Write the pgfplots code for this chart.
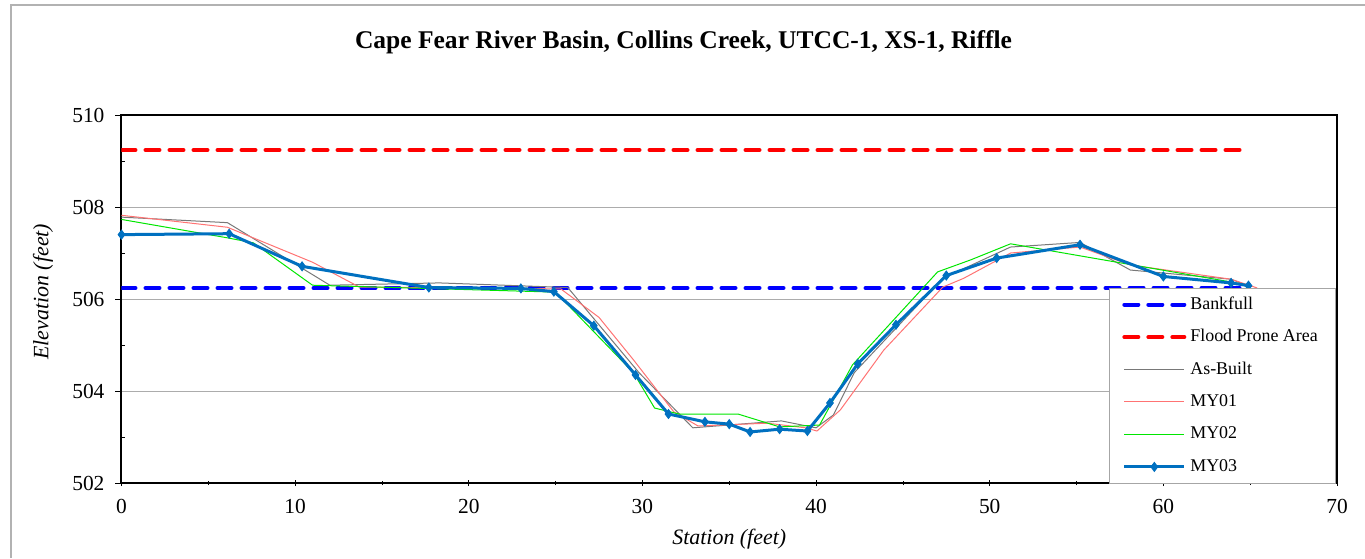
\documentclass[border=0pt]{standalone}
\usepackage{fontspec}
\setmainfont{Liberation Serif}
\usepackage{pgfplots}
\pgfplotsset{compat=1.18}

\definecolor{bankblue}{RGB}{0,0,255}
\definecolor{floodred}{RGB}{255,0,0}
\definecolor{asbuilt}{RGB}{120,120,120}
\definecolor{myone}{RGB}{255,115,115}
\definecolor{mytwo}{RGB}{0,230,0}
\definecolor{mythree}{RGB}{0,112,192}

\begin{document}
\begin{tikzpicture}[x=1bp,y=1bp]
% canvas and outer chart frame
\path[use as bounding box] (-60.75,-37.5) rectangle (621.75,241.5);
\draw[gray!60, line width=0.8bp] (-55.25,-37.5) -- (-55.25,239) -- (621.75,239);
% title
\node[font=\fontsize{12.8}{14}\selectfont\bfseries] at (281,220.5)
  {Cape Fear River Basin, Collins Creek, UTCC-1, XS-1, Riffle};
\begin{axis}[
  at={(0,0)}, anchor=south west,
  scale only axis, width=607.75bp, height=184bp,
  xmin=0, xmax=70, ymin=502, ymax=510,
  xtick={0,10,...,70}, ytick={502,504,...,510},
  minor x tick num=1, minor y tick num=1,
  tick pos=left,
  xtick align=center, ytick align=outside,
  major tick length=3bp, minor tick length=2bp,
  minor y tick style={xshift=2bp},
  every tick/.style={black, line width=0.4bp},
  axis line style={line width=1bp, black},
  ymajorgrids, major grid style={gray!65, line width=0.5bp},
  /pgf/number format/assume math mode=true,
  /pgf/number format/1000 sep={},
  tick label style={font=\fontsize{10.75}{12}\selectfont},
  xticklabel style={yshift=-3bp},
  yticklabel style={xshift=-2bp},
  xlabel={\textit{Station (feet)}},
  ylabel={\textit{Elevation (feet)}},
  label style={font=\fontsize{11}{12}\selectfont},
  xlabel style={at={(axis description cs:0.5,0)}, anchor=center, yshift=-28bp},
  ylabel style={at={(axis description cs:0,0.52)}, anchor=center, yshift=39.25bp},
  legend cell align=left,
  legend style={at={(1,0.003)}, anchor=south east, xshift=-0.75bp, yshift=-1bp,
    draw=gray!70, line width=0.5bp,
    fill=white, font=\fontsize{9}{10}\selectfont,
    inner xsep=6.6bp, inner ysep=1.5bp, row sep=2.75bp,
    nodes={text height=7bp, text depth=2.5bp}},
  legend image code/.code={
    \draw[mark repeat=2, mark phase=2, #1]
      plot coordinates {(0bp,0bp) (15bp,0bp) (30bp,0bp)};},
]
% bankfull elevation
\addplot[bankblue, line width=2bp, line cap=round, dash pattern=on 7bp off 5bp]
  coordinates {(0,506.24) (64.9,506.24)};
\addlegendentry{Bankfull}
% flood prone area elevation
\addplot[floodred, line width=2bp, line cap=round, dash pattern=on 7bp off 5bp]
  coordinates {(0,509.24) (64.9,509.24)};
\addlegendentry{Flood Prone Area}
% as-built survey
\addplot[asbuilt, line width=0.5bp] coordinates {
  (0,507.78) (6.1,507.66) (12.0,506.30) (18.3,506.35) (25.7,506.25)
  (29.8,504.40) (32.9,503.20) (38.0,503.35) (40.0,503.20) (41.0,503.48)
  (42.2,504.40) (47.3,506.45) (51.2,507.13) (55.2,507.23) (58.1,506.63)
  (63.9,506.43) (65.0,506.27)};
\addlegendentry{As-Built}
% monitoring year 1
\addplot[myone, line width=0.5bp] coordinates {
  (0,507.82) (6.1,507.56) (11.0,506.80) (13.7,506.26) (25.3,506.22)
  (27.5,505.60) (29.5,504.67) (31.8,503.55) (33.2,503.24) (37.2,503.30)
  (39.4,503.20) (40.05,503.13) (41.4,503.59) (43.9,504.89) (47.3,506.26)
  (48.5,506.45) (51.2,507.00) (55.2,507.13) (58.1,506.74) (63.9,506.43)
  (65.4,506.24)};
\addlegendentry{MY01}
% monitoring year 2
\addplot[mytwo, line width=0.5bp] coordinates {
  (0,507.73) (6.1,507.33) (7.6,507.22) (11.0,506.30) (25.0,506.15)
  (29.5,504.39) (30.7,503.63) (32.1,503.50) (35.5,503.50) (37.9,503.22)
  (40.2,503.26) (42.1,504.57) (47.0,506.59) (48.9,506.85) (51.2,507.20)
  (63.9,506.37) (64.9,506.30)};
\addlegendentry{MY02}
% monitoring year 3
\addplot[mythree, line width=1.5bp, mark=diamond*, mark size=2.2bp,
  mark options={solid, fill=mythree, line width=0.5bp}] coordinates {
  (0,507.40) (6.2,507.42) (10.4,506.71) (17.7,506.25) (23.0,506.23)
  (24.9,506.16) (27.2,505.42) (29.6,504.35) (31.5,503.50) (33.6,503.33)
  (35.0,503.28) (36.2,503.11) (37.9,503.17) (39.5,503.13) (40.8,503.74)
  (42.4,504.59) (44.6,505.44) (47.5,506.51) (50.4,506.89) (55.2,507.18)
  (60.0,506.49) (63.9,506.35) (64.9,506.29)};
\addlegendentry{MY03}
\end{axis}
\end{tikzpicture}
\end{document}
